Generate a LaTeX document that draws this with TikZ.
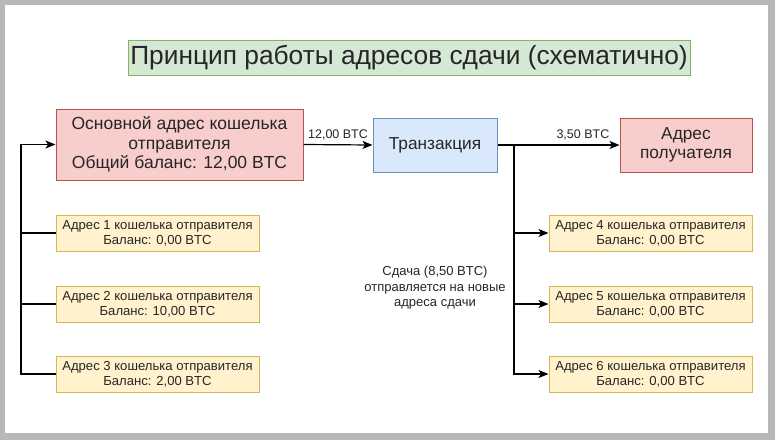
\documentclass[tikz,border=0pt]{standalone}
\usepackage{fontspec}
\setmainfont{Liberation Sans}
\usetikzlibrary{arrows.meta}
\definecolor{gfill}{HTML}{D5E8D4}\definecolor{gline}{HTML}{82B366}
\definecolor{rfill}{HTML}{F8CECC}\definecolor{rline}{HTML}{B85450}
\definecolor{bfill}{HTML}{DAE8FC}\definecolor{bline}{HTML}{6C8EBF}
\definecolor{yfill}{HTML}{FFF2CC}\definecolor{yline}{HTML}{D6B656}
\definecolor{frame}{HTML}{B8B8B8}
\tikzset{
  box/.style={draw, line width=1pt, align=center, inner sep=0pt, text=black!85},
  redbox/.style={box, fill=rfill, draw=rline},
  bluebox/.style={box, fill=bfill, draw=bline},
  ybox/.style={box, fill=yfill, draw=yline, minimum width=203pt, minimum height=36pt,
     font=\fontsize{13.1}{15}\selectfont},
  conn/.style={line width=1.2pt, black},
  arr/.style={conn, -{Stealth[length=10pt,width=8pt,inset=2.5pt]}},
  lbl/.style={font=\fontsize{12.5}{14}\selectfont, text=black!85, inner sep=1pt}
}
\begin{document}
\begin{tikzpicture}[x=1pt,y=-1pt]
\useasboundingbox (0,0) rectangle (775,440);
\fill[frame] (0,0) rectangle (775,440);
\fill[white] (5,5) rectangle (768,433);
\node[box, fill=gfill, draw=gline, minimum width=562pt, minimum height=35pt,
  font=\fontsize{26.3}{28}\selectfont] (title) at (409,58) {Принцип работы адресов сдачи (схематично)};
\node[redbox, minimum width=247pt, minimum height=71pt,
  font=\fontsize{17.5}{19.5}\selectfont] (main) at (179.5,144.5)
  {Основной адрес кошелька\\отправителя\\Общий баланс: 12,00 BTC};
\node[bluebox, minimum width=124pt, minimum height=54pt,
  font=\fontsize{17.3}{19}\selectfont] (tx) at (435,145) {Транзакция};
\node[redbox, minimum width=132pt, minimum height=54pt,
  font=\fontsize{17.3}{19.5}\selectfont] (rcv) at (686,145) {Адрес\\получателя};
\node[ybox] (a1) at (157.5,233) {Адрес 1 кошелька отправителя\\Баланс: 0,00 BTC};
\node[ybox] (a2) at (157.5,304) {Адрес 2 кошелька отправителя\\Баланс: 10,00 BTC};
\node[ybox] (a3) at (157.5,374) {Адрес 3 кошелька отправителя\\Баланс: 2,00 BTC};
\node[ybox] (a4) at (650.5,233) {Адрес 4 кошелька отправителя\\Баланс: 0,00 BTC};
\node[ybox] (a5) at (650.5,304) {Адрес 5 кошелька отправителя\\Баланс: 0,00 BTC};
\node[ybox] (a6) at (650.5,374) {Адрес 6 кошелька отправителя\\Баланс: 0,00 BTC};
\coordinate (L) at (21,145);
\coordinate (R) at (514,145);
\draw[arr] (a3.west) -- (a3.west -| L) |- (main.west);
\draw[conn] (a1.west) -- (a1.west -| L);
\draw[conn] (a2.west) -- (a2.west -| L);
\draw[arr] (main.east) -- node[lbl, above=3pt] {12,00 BTC} (tx.west);
\draw[arr] (tx.east) -- node[lbl, above=3pt, pos=0.7] {3,50 BTC} (rcv.west);
\draw[arr] (R) |- (a4.west);
\draw[arr] (R) |- (a5.west);
\draw[arr] (R) |- (a6.west);
\node[lbl, align=center, font=\fontsize{13}{15.5}\selectfont] (note) at (435,288)
  {Сдача (8,50 BTC)\\отправляется на новые\\адреса сдачи};
\end{tikzpicture}
\end{document}
